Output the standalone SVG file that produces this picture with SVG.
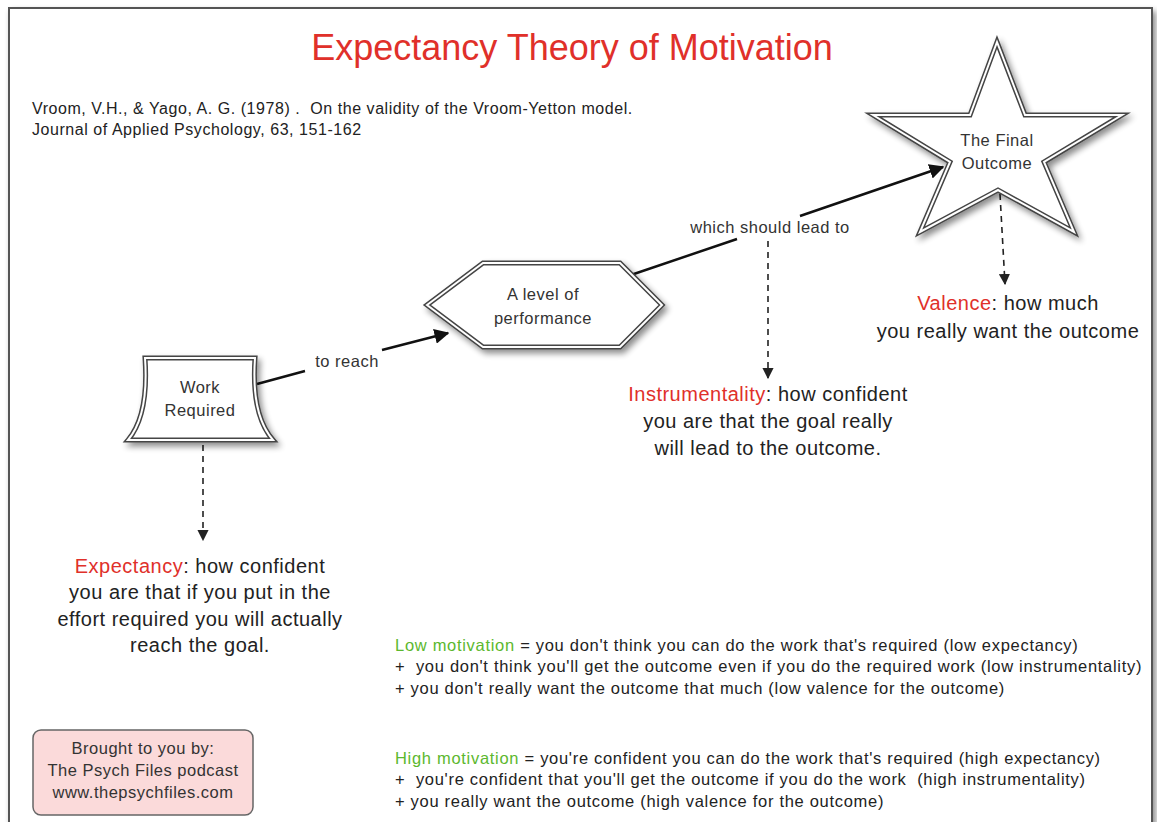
<svg xmlns="http://www.w3.org/2000/svg" width="1157" height="822" viewBox="0 0 1157 822">
<style>
text{font-family:"Liberation Sans",Arial,sans-serif;fill:#222;white-space:pre}
.title{font-size:36px;fill:#e0302a}
.cite{font-size:16px;letter-spacing:0.55px}
.node{font-size:16.5px;letter-spacing:0.5px;fill:#333}
.lbl{font-size:16.5px;letter-spacing:0.5px;fill:#333}
.big{font-size:20px;letter-spacing:0.5px}
.red{fill:#e0302a}
.grn{fill:#5cb82e}
.bot{font-size:16.5px;letter-spacing:0.7px}
.outer{fill:#fff;stroke:#444;stroke-width:5;stroke-linejoin:miter}
.inner{fill:none;stroke:#fff;stroke-width:2;stroke-linejoin:miter}
.solid{fill:none;stroke:#111;stroke-width:2.5}
.dash{fill:none;stroke:#222;stroke-width:1.6;stroke-dasharray:6 5}
</style>
<defs>
<filter id="sh" x="-20%" y="-20%" width="150%" height="150%">
<feGaussianBlur in="SourceAlpha" stdDeviation="3"/>
<feOffset dx="3" dy="4" result="b"/>
<feComponentTransfer><feFuncA type="linear" slope="0.45"/></feComponentTransfer>
<feMerge><feMergeNode/><feMergeNode in="SourceGraphic"/></feMerge>
</filter>
<marker id="ah" viewBox="0 0 10 10" refX="9" refY="5" markerWidth="6" markerHeight="6" markerUnits="strokeWidth" orient="auto">
<path d="M0,0 L10,5 L0,10 z" fill="#111"/>
</marker>
<marker id="ahd" viewBox="0 0 10 10" refX="9" refY="5" markerWidth="7" markerHeight="7" markerUnits="strokeWidth" orient="auto">
<path d="M0,0 L10,5 L0,10 z" fill="#222"/>
</marker>
</defs>
<rect width="1157" height="822" fill="#fff"/>
<g id="frame">
<rect x="9" y="8" width="1143" height="830" fill="#fff" stroke="#555" stroke-width="2" filter="url(#sh)"/>
</g>
<g id="title">
<text class="title" x="572" y="60" text-anchor="middle">Expectancy Theory of Motivation</text>
<text class="cite" x="32" y="114">Vroom, V.H., &amp; Yago, A. G. (1978) .  On the validity of the Vroom-Yetton model.</text>
<text class="cite" x="32" y="135">Journal of Applied Psychology, 63, 151-162</text>
</g>
<g id="connectors">
<path class="solid" d="M257,384 L305,371 M382,350 L448,333" marker-end="url(#ah)"/>
<path class="solid" d="M625,277 L737,239 M800,216 L943,167" marker-end="url(#ah)"/>
<path class="dash" d="M203,445 L203,540" marker-end="url(#ahd)"/>
<path class="dash" d="M768,241 L768,378" marker-end="url(#ahd)"/>
<path class="dash" d="M1000,194 L1005,284" marker-end="url(#ahd)"/>
<text class="lbl" x="347" y="367" text-anchor="middle">to reach</text>
<text class="lbl" x="770" y="233" text-anchor="middle">which should lead to</text>
</g>
<g id="work">
<g filter="url(#sh)">
<path class="outer" d="M145,358 L255,358 Q251,415 273,440 L128,440 Q149,415 145,358 Z"/>
</g>
<path class="inner" d="M145,358 L255,358 Q251,415 273,440 L128,440 Q149,415 145,358 Z"/>
<text class="node" x="200" y="393" text-anchor="middle">Work</text>
<text class="node" x="200" y="416" text-anchor="middle">Required</text>
</g>
<g id="performance">
<g filter="url(#sh)">
<path class="outer" d="M427,305 L483,263 L620,263 L662,305 L620,347 L483,347 Z"/>
</g>
<path class="inner" d="M427,305 L483,263 L620,263 L662,305 L620,347 L483,347 Z"/>
<text class="node" x="543" y="300" text-anchor="middle">A level of</text>
<text class="node" x="543" y="324" text-anchor="middle">performance</text>
</g>
<g id="outcome">
<g filter="url(#sh)">
<path class="outer" d="M997,42 L1025,115 L1122,115 L1044,162 L1074,232 L998,190 L920,232 L950,162 L873,115 L970,115 Z"/>
</g>
<path class="inner" d="M997,42 L1025,115 L1122,115 L1044,162 L1074,232 L998,190 L920,232 L950,162 L873,115 L970,115 Z"/>
<text class="node" x="997" y="146" text-anchor="middle">The Final</text>
<text class="node" x="997" y="169" text-anchor="middle">Outcome</text>
</g>
<g id="valence">
<text class="big" x="1008" y="310" text-anchor="middle"><tspan class="red">Valence</tspan>: how much</text>
<text class="big" x="1008" y="338" text-anchor="middle">you really want the outcome</text>
</g>
<g id="instrumentality">
<text class="big" x="768" y="401" text-anchor="middle"><tspan class="red">Instrumentality</tspan>: how confident</text>
<text class="big" x="768" y="428" text-anchor="middle">you are that the goal really</text>
<text class="big" x="768" y="455" text-anchor="middle">will lead to the outcome.</text>
</g>
<g id="expectancy">
<text class="big" x="200" y="573" text-anchor="middle"><tspan class="red">Expectancy</tspan>: how confident</text>
<text class="big" x="200" y="599" text-anchor="middle">you are that if you put in the</text>
<text class="big" x="200" y="626" text-anchor="middle">effort required you will actually</text>
<text class="big" x="200" y="652" text-anchor="middle">reach the goal.</text>
</g>
<g id="low">
<text class="bot" x="395" y="651"><tspan class="grn">Low motivation</tspan> = you don't think you can do the work that's required (low expectancy)</text>
<text class="bot" x="395" y="672">+  you don't think you'll get the outcome even if you do the required work (low instrumentality)</text>
<text class="bot" x="395" y="694">+ you don't really want the outcome that much (low valence for the outcome)</text>
</g>
<g id="high">
<text class="bot" x="395" y="764"><tspan class="grn">High motivation</tspan> = you're confident you can do the work that's required (high expectancy)</text>
<text class="bot" x="395" y="785">+  you're confident that you'll get the outcome if you do the work  (high instrumentality)</text>
<text class="bot" x="395" y="807">+ you really want the outcome (high valence for the outcome)</text>
</g>
<g id="credit">
<rect x="33" y="730" width="220" height="85" rx="8" fill="#fbdada" stroke="#666" stroke-width="1.5"/>
<text class="lbl" x="143" y="754" text-anchor="middle">Brought to you by:</text>
<text class="lbl" x="143" y="776" text-anchor="middle">The Psych Files podcast</text>
<text class="lbl" x="143" y="798" text-anchor="middle">www.thepsychfiles.com</text>
</g>
</svg>
